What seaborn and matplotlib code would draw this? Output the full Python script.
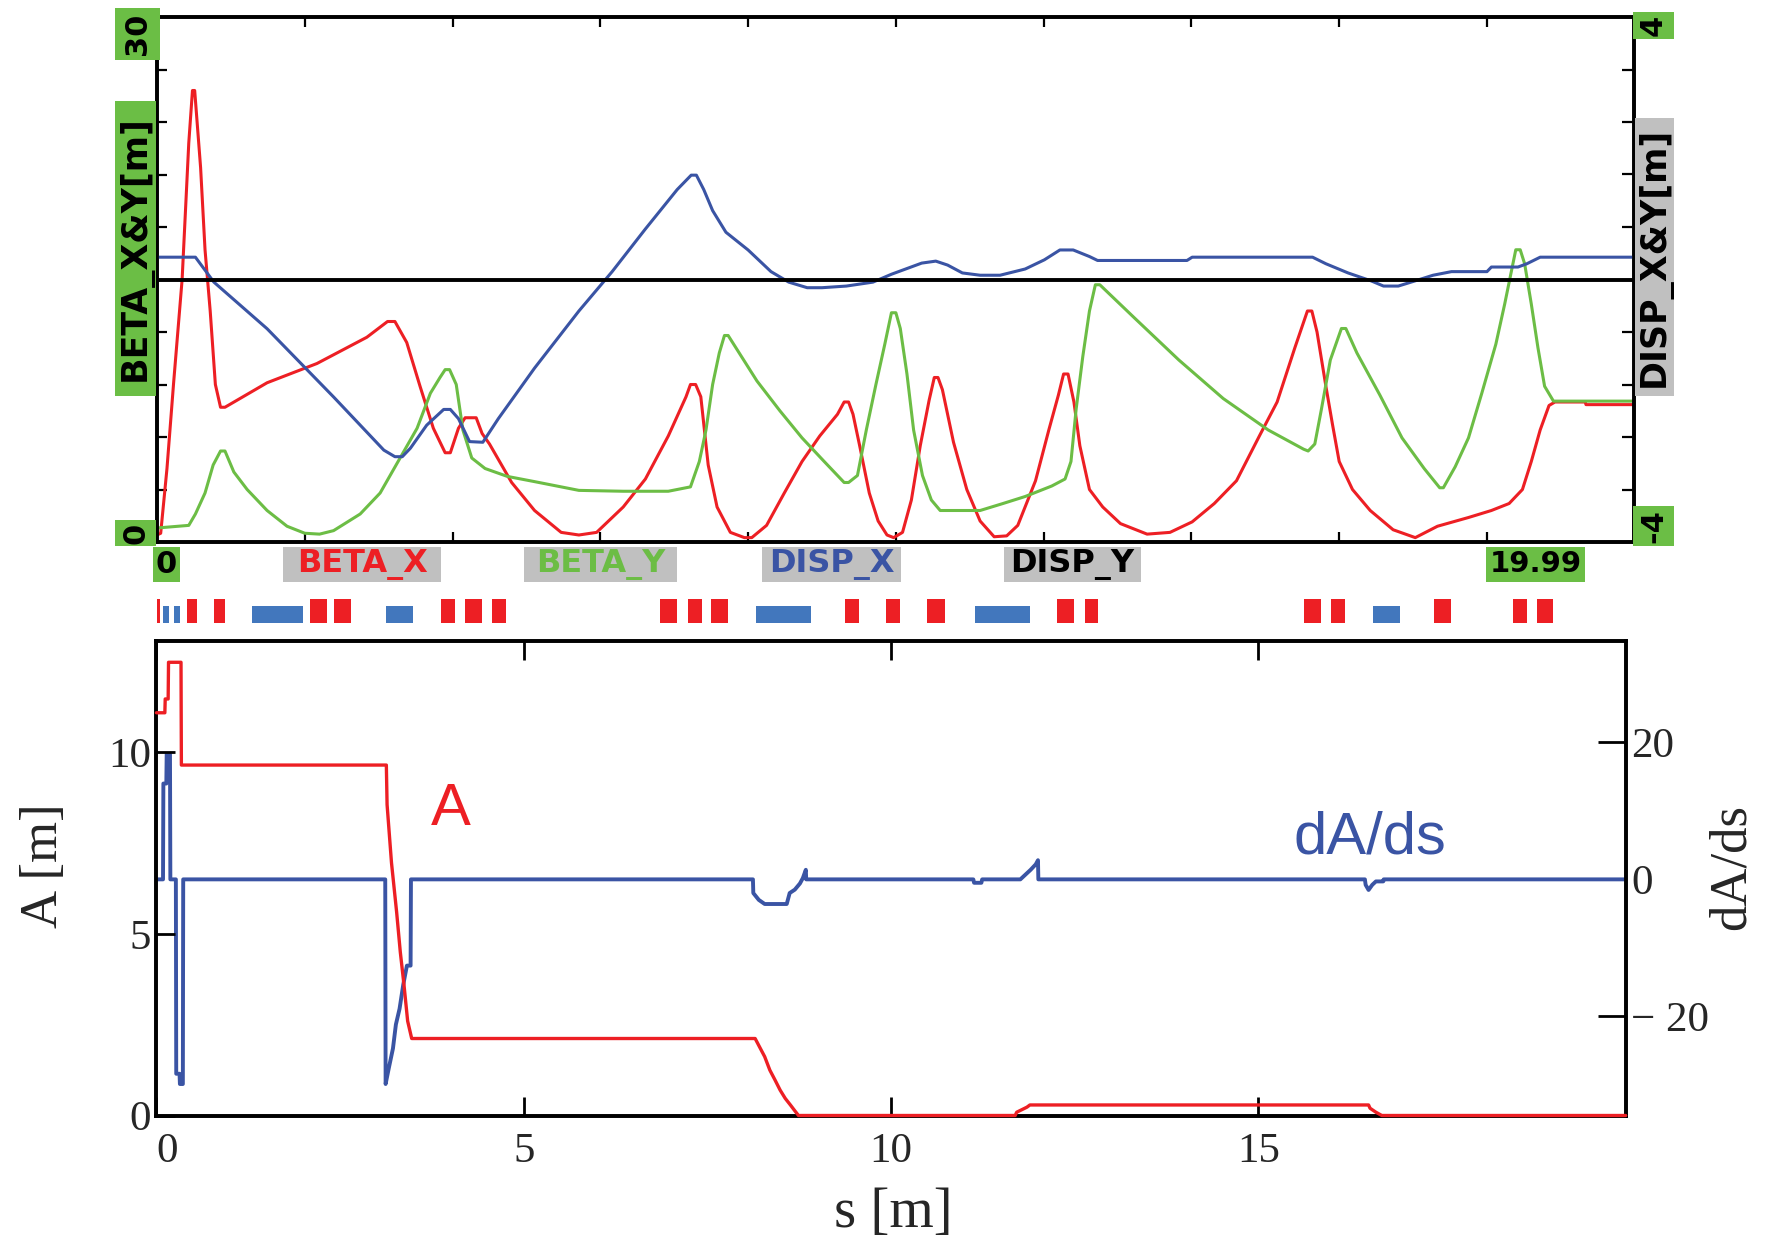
import numpy as np
import matplotlib
matplotlib.use('Agg')
import matplotlib.pyplot as plt
from matplotlib.patches import Rectangle
import seaborn as sns

# ---- top panel: beta functions and dispersion ----
s_bx = [0.0, 0.05, 0.135, 0.225, 0.34, 0.43, 0.48, 0.51, 0.59, 0.65, 0.72, 0.79, 0.86, 0.92,
        1.49, 2.165, 2.84, 3.12, 3.22, 3.38, 3.56, 3.74, 3.90, 3.97, 4.08, 4.17, 4.32, 4.40,
        4.50, 4.80, 5.11, 5.47, 5.71, 5.95, 6.31, 6.61, 6.92, 7.16, 7.22, 7.29, 7.36, 7.46,
        7.58, 7.76, 7.95, 8.05, 8.25, 8.49, 8.73, 8.97, 9.21, 9.30, 9.36, 9.42, 9.51, 9.64,
        9.76, 9.88, 9.97, 10.09, 10.21, 10.33, 10.45, 10.52, 10.57, 10.63, 10.78, 10.96,
        11.14, 11.33, 11.50, 11.65, 11.89, 12.07, 12.20, 12.27, 12.33, 12.41, 12.49, 12.62,
        12.80, 13.04, 13.40, 13.71, 14.01, 14.31, 14.61, 14.92, 15.16, 15.40, 15.57, 15.63,
        15.70, 15.82, 15.91, 16.00, 16.18, 16.42, 16.73, 17.03, 17.33, 17.75, 18.06, 18.30,
        18.48, 18.60, 18.72, 18.84, 18.92, 19.33, 19.34, 19.99]
beta_x = [0.4, 0.5, 4.2, 9.1, 15.0, 22.8, 25.8, 25.8, 21.4, 16.7, 13.2, 9.0, 7.7, 7.7,
          9.1, 10.2, 11.7, 12.6, 12.6, 11.4, 8.9, 6.5, 5.1, 5.1, 6.5, 7.1, 7.1, 6.2,
          5.6, 3.4, 1.8, 0.55, 0.4, 0.55, 2.0, 3.6, 6.06, 8.3, 9.0, 9.0, 8.3, 4.4,
          2.0, 0.55, 0.25, 0.25, 0.95, 2.8, 4.6, 6.06, 7.3, 8.0, 8.0, 7.3, 5.5, 2.8,
          1.2, 0.4, 0.25, 0.55, 2.4, 5.5, 8.1, 9.4, 9.4, 8.7, 5.7, 3.0,
          1.2, 0.3, 0.35, 0.95, 3.5, 6.4, 8.4, 9.6, 9.6, 8.0, 5.5, 3.0,
          2.0, 1.05, 0.45, 0.55, 1.15, 2.2, 3.5, 6.06, 8.0, 11.1, 13.2, 13.2,
          12.0, 8.9, 6.7, 4.6, 3.0, 1.8, 0.7, 0.25, 0.9, 1.4, 1.8, 2.2,
          3.0, 4.6, 6.4, 7.8, 8.0, 8.0, 7.85, 7.85]

s_by = [0.0, 0.43, 0.52, 0.65, 0.76, 0.86, 0.92, 1.04, 1.22, 1.49, 1.76, 2.0, 2.2, 2.39,
        2.75, 3.02, 3.29, 3.52, 3.70, 3.83, 3.90, 3.96, 4.05, 4.14, 4.26, 4.44, 4.74, 5.11,
        5.71, 6.31, 6.92, 7.22, 7.34, 7.43, 7.52, 7.61, 7.68, 7.73, 7.88, 8.12, 8.43, 8.73,
        9.03, 9.30, 9.36, 9.48, 9.60, 9.73, 9.85, 9.94, 10.0, 10.06, 10.15, 10.24, 10.36,
        10.48, 10.60, 11.14, 11.45, 11.75, 12.11, 12.29, 12.37, 12.44, 12.53, 12.62, 12.70,
        12.76, 13.23, 13.83, 14.43, 15.04, 15.52, 15.58, 15.67, 15.76, 15.88, 16.03, 16.09,
        16.24, 16.55, 16.85, 17.15, 17.36, 17.41, 17.57, 17.75, 17.93, 18.12, 18.24, 18.39,
        18.45, 18.51, 18.60, 18.69, 18.78, 18.90, 19.99]
beta_y = [0.8, 0.95, 1.6, 2.8, 4.4, 5.2, 5.2, 4.0, 3.0, 1.8, 0.9, 0.5, 0.45, 0.65,
          1.6, 2.8, 4.8, 6.5, 8.5, 9.4, 9.85, 9.85, 9.0, 6.4, 4.8, 4.2, 3.75, 3.45,
          2.95, 2.9, 2.9, 3.15, 4.6, 6.4, 9.0, 10.8, 11.8, 11.8, 10.8, 9.2, 7.5, 5.95,
          4.6, 3.4, 3.4, 3.8, 6.4, 9.0, 11.3, 13.1, 13.1, 12.2, 9.6, 6.4, 3.8,
          2.4, 1.8, 1.8, 2.2, 2.6, 3.2, 3.6, 4.6, 7.6, 10.6, 13.2, 14.7,
          14.7, 12.8, 10.4, 8.2, 6.4, 5.3, 5.2, 5.6, 7.6, 10.4, 12.2, 12.2,
          10.8, 8.4, 5.95, 4.2, 3.1, 3.1, 4.3, 5.95, 8.5, 11.3, 13.6, 16.7,
          16.7, 15.9, 13.6, 11.1, 8.9, 8.05, 8.05]

s_dx = [0.0, 0.52, 0.77, 1.49, 2.39, 3.07, 3.22, 3.32, 3.43, 3.65, 3.88, 3.97, 4.08, 4.23,
        4.41, 4.62, 5.11, 5.71, 6.16, 6.61, 7.04, 7.23, 7.30, 7.40, 7.52, 7.70, 8.0, 8.31,
        8.55, 8.80, 9.0, 9.33, 9.69, 9.94, 10.35, 10.54, 10.70, 10.90, 11.14, 11.41, 11.75,
        12.01, 12.22, 12.40, 12.62, 12.73, 13.94, 14.01, 15.64, 15.82, 16.12, 16.43, 16.60,
        16.80, 17.03, 17.27, 17.52, 18.0, 18.06, 18.42, 18.54, 18.72, 19.99]
disp_x = [0.34, 0.34, -0.04, -0.75, -1.79, -2.60, -2.70, -2.70, -2.57, -2.22, -1.98, -1.98,
          -2.12, -2.47, -2.48, -2.12, -1.35, -0.48, 0.12, 0.77, 1.37, 1.59, 1.59, 1.37, 1.05,
          0.72, 0.45, 0.12, -0.04, -0.125, -0.125, -0.1, -0.04, 0.08, 0.25, 0.28, 0.22, 0.1,
          0.065, 0.065, 0.16, 0.30, 0.45, 0.45, 0.35, 0.29, 0.29, 0.34, 0.34, 0.24, 0.1,
          -0.02, -0.1, -0.1, -0.02, 0.065, 0.12, 0.12, 0.19, 0.19, 0.24, 0.34, 0.34]

s_dy = [0.0, 19.99]
disp_y = [0.0, 0.0]

# ---- magnet layout (start / end in s) ----
quad_start = [0.0, 0.41, 0.775, 2.07, 2.40, 3.85, 4.17, 4.54, 6.81, 7.18, 7.50, 9.31, 9.87,
              10.42, 12.18, 12.56, 15.52, 15.89, 17.28, 18.35, 18.68]
quad_end = [0.04, 0.54, 0.92, 2.30, 2.63, 4.03, 4.40, 4.72, 7.04, 7.37, 7.73, 9.50, 10.06,
            10.66, 12.41, 12.74, 15.75, 16.08, 17.51, 18.54, 18.90]
bend_start = [0.085, 0.23, 1.29, 3.10, 8.11, 11.07, 16.46]
bend_end = [0.16, 0.31, 1.98, 3.47, 8.85, 11.81, 16.82]

# ---- bottom panel: A and dA/ds ----
s_a = [0.0, 0.115, 0.12, 0.16, 0.165, 0.335, 0.34, 3.13, 3.14, 3.20, 3.27, 3.32, 3.37, 3.42,
       3.475, 8.15, 8.22, 8.28, 8.35, 8.42, 8.49, 8.56, 8.63, 8.69, 8.74, 11.69, 11.71, 11.85,
       11.89, 16.50, 16.52, 16.60, 16.68, 20.0]
amp = [11.09, 11.09, 11.47, 11.47, 12.48, 12.48, 9.65, 9.65, 8.56, 6.96, 5.6, 4.5, 3.6, 2.6,
       2.12, 2.12, 1.85, 1.62, 1.25, 0.98, 0.70, 0.47, 0.29, 0.13, 0.0, 0.0, 0.09, 0.23,
       0.29, 0.29, 0.2, 0.09, 0.0, 0.0]

s_d = [0.0, 0.09, 0.095, 0.135, 0.14, 0.185, 0.19, 0.265, 0.27, 0.315, 0.32, 0.36, 0.365,
       3.115, 3.12, 3.165, 3.22, 3.26, 3.31, 3.36, 3.41, 3.46, 3.465, 8.12, 8.125, 8.2, 8.28,
       8.58, 8.62, 8.69, 8.76, 8.80, 8.84, 8.845, 11.12, 11.13, 11.23, 11.24, 11.76, 11.83,
       11.90, 11.97, 12.0, 12.005, 16.45, 16.46, 16.5, 16.55, 16.6, 16.7, 16.705, 20.0]
damp = [0, 0, 14, 14, 18.3, 18.3, 0, 0, -28.4, -28.4, -29.9, -29.9, 0,
        0, -29.9, -27.5, -24.7, -21.2, -18.9, -15.4, -12.6, -12.6, 0, 0, -2.0, -3.0, -3.6,
        -3.6, -2.0, -1.5, -0.6, 0.2, 1.4, 0, 0, -0.5, -0.5, 0, 0, 0.7,
        1.4, 2.2, 2.8, 0, 0, -0.8, -1.55, -0.8, -0.3, -0.3, 0, 0]

x_ticks_b = [0, 5, 10, 15]
y_ticks_a = [0, 5, 10]
y_ticks_d = [-20, 0, 20]
y_labels_d = ['\u2212 20', '0', '20']

RED = '#ED1F24'
GREEN = '#6CBD45'
BLUE = '#3A54A4'
MAG_BLUE = '#4277BD'
BOX_GREEN = '#6BBE45'
BOX_GRAY = '#C0C0C0'

sns.set_style('white')
plt.rcParams['font.family'] = ['Liberation Serif', 'DejaVu Serif']

W, H = 1777, 1239
fig = plt.figure(figsize=(W / 100, H / 100), dpi=100)


def rect(x0, y0, x1, y1):
    return [x0 / W, 1 - y1 / H, (x1 - x0) / W, (y1 - y0) / H]


def tag(x0, y0, x1, y1, text, fc, tc='black', rot=0, size=22):
    fig.add_artist(Rectangle((x0 / W, 1 - y1 / H), (x1 - x0) / W, (y1 - y0) / H,
                             transform=fig.transFigure, fc=fc, ec='none'))
    fig.text((x0 + x1) / 2 / W, 1 - (y0 + y1) / 2 / H, text, rotation=rot,
             ha='center', va='center', color=tc, fontsize=size,
             family='DejaVu Sans', weight='bold')


def frame(ax):
    for sp in ax.spines.values():
        sp.set_linewidth(2.6)
        sp.set_color('black')


# top panel
ax_t = fig.add_axes(rect(157, 17, 1634, 542))
ax_r = ax_t.twinx()
sns.lineplot(x=s_bx, y=beta_x, ax=ax_t, color=RED, lw=2.2, sort=False, estimator=None)
sns.lineplot(x=s_by, y=beta_y, ax=ax_t, color=GREEN, lw=2.2, sort=False, estimator=None)
sns.lineplot(x=s_dx, y=disp_x, ax=ax_r, color=BLUE, lw=2.2, sort=False, estimator=None)
sns.lineplot(x=s_dy, y=disp_y, ax=ax_r, color='black', lw=2.8, sort=False, estimator=None)
ax_t.set_xlim(0, 19.99)
ax_t.set_ylim(0, 30)
ax_r.set_ylim(-4, 4)
ax_t.set_xticks(np.arange(2, 20, 2))
ax_t.set_yticks(np.arange(3, 30, 3))
ax_r.set_yticks(np.linspace(-3.2, 3.2, 9))
ax_t.tick_params(axis='both', direction='in', length=7, width=1.6, color='black',
                 top=True, bottom=True, left=True, right=False,
                 labelbottom=False, labelleft=False)
ax_r.tick_params(axis='y', direction='in', length=9, width=1.6, color='black',
                 right=True, left=False, labelright=False)
for a in (ax_t, ax_r):
    a.set(xlabel='', ylabel='')
    frame(a)

# magnet row
ax_m = fig.add_axes(rect(157, 598.5, 1634, 623))
ax_m.bar(quad_start, 1, width=np.subtract(quad_end, quad_start), align='edge',
         color=RED, linewidth=0)
ax_m.bar(bend_start, 0.68, width=np.subtract(bend_end, bend_start), align='edge',
         color=MAG_BLUE, linewidth=0)
ax_m.set_xlim(0, 19.99)
ax_m.set_ylim(0, 1)
ax_m.axis('off')

# bottom panel
ax_b = fig.add_axes(rect(156.4, 640.5, 1625.7, 1115.5))
ax_d = ax_b.twinx()
sns.lineplot(x=s_d, y=damp, ax=ax_d, color=BLUE, lw=2.8, sort=False, estimator=None)
sns.lineplot(x=s_a, y=amp, ax=ax_b, color=RED, lw=2.4, sort=False, estimator=None,
             clip_on=False, zorder=3)
ax_b.set_zorder(ax_d.get_zorder() + 1)
ax_b.patch.set_visible(False)
ax_b.set_xlim(0, 20)
ax_b.set_ylim(0, 13.08)
ax_d.set_ylim(-34.5, 34.9)
ax_b.set_xticks(x_ticks_b)
ax_b.set_xticklabels([str(v) for v in x_ticks_b])
ax_b.set_yticks(y_ticks_a)
ax_b.set_yticklabels([str(v) for v in y_ticks_a])
ax_d.set_yticks(y_ticks_d)
ax_d.set_yticklabels(y_labels_d)
ax_b.tick_params(axis='x', direction='in', length=14, width=2, color='black',
                 top=True, bottom=True, labelsize=31, pad=12)
ax_b.tick_params(axis='y', direction='in', length=14, width=2, color='black',
                 left=True, right=False, labelsize=31, pad=4)
ax_d.tick_params(axis='y', direction='in', length=20, width=2, color='black',
                 right=True, left=False, labelsize=31, pad=4)
ax_b.get_xticklabels()[0].set_ha('left')
for a in (ax_b, ax_d):
    a.set(xlabel='', ylabel='')
    frame(a)

ax_b.text(4.01, 8.42, 'A', color=RED, fontsize=43, family='Liberation Sans',
          ha='center', va='center')
ax_b.text(16.52, 7.65, 'dA/ds', color=BLUE, fontsize=43, family='Liberation Sans',
          ha='center', va='center')

fig.text(893 / W, 1 - 1213 / H, 's [m]', ha='center', va='center', fontsize=41)
fig.text(44 / W, 1 - 866 / H, 'A [m]', rotation=90, ha='center', va='center', fontsize=38)
fig.text(1732 / W, 1 - 867 / H, 'dA/ds', rotation=90, ha='center', va='center', fontsize=38)

# coloured tag boxes around the top panel
tag(115, 8, 160, 60, '30', BOX_GREEN, rot=90, size=22)
tag(115, 101, 156, 396, 'BETA_X&Y[m]', BOX_GREEN, rot=90, size=25)
tag(115, 520, 156, 546, '0', BOX_GREEN, rot=90, size=22)
tag(1633, 12, 1674, 39, '4', BOX_GREEN, rot=90, size=22)
tag(1635, 118, 1674, 396, 'DISP_X&Y[m]', BOX_GRAY, rot=90, size=25)
tag(1633, 506, 1674, 546, '-4', BOX_GREEN, rot=90, size=22)
tag(153, 547, 180, 582, '0', BOX_GREEN, size=22)
tag(283, 547, 441, 582, 'BETA_X', BOX_GRAY, tc=RED, size=23)
tag(524, 547, 677, 582, 'BETA_Y', BOX_GRAY, tc=GREEN, size=23)
tag(762, 547, 901, 582, 'DISP_X', BOX_GRAY, tc=BLUE, size=23)
tag(1004, 547, 1141, 582, 'DISP_Y', BOX_GRAY, tc='black', size=23)
tag(1486, 547, 1585, 582, '19.99', BOX_GREEN, size=21)

fig.savefig('out.png', dpi=100)
